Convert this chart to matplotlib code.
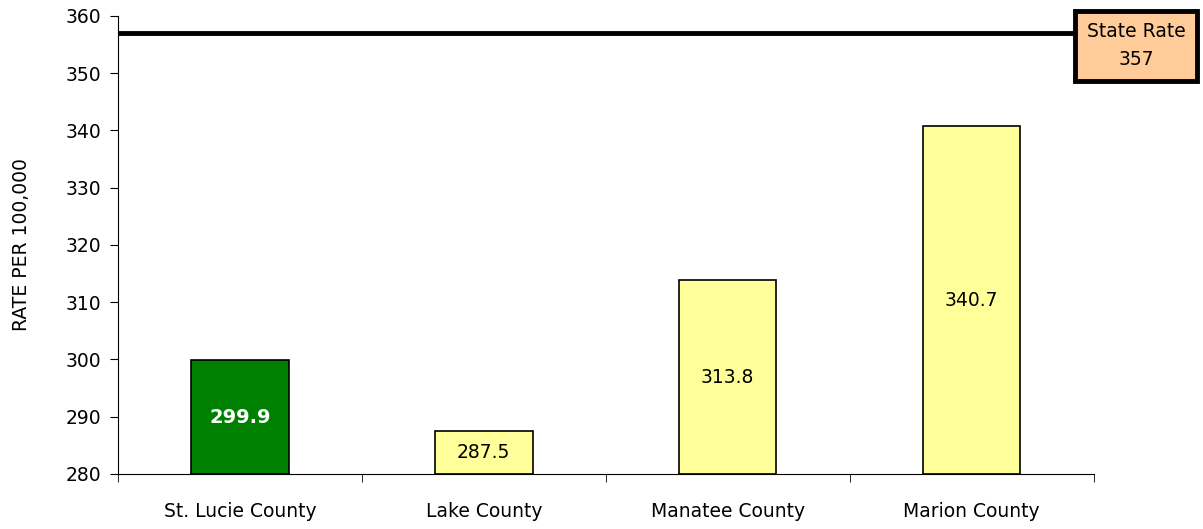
import matplotlib.pyplot as plt

counties = ['St. Lucie County', 'Lake County', 'Manatee County', 'Marion County']
rates = [299.9, 287.5, 313.8, 340.7]
bar_colors = ['#008000', '#ffff99', '#ffff99', '#ffff99']
state_rate = 357

plt.rcParams['font.family'] = ['DejaVu Sans']

fig = plt.figure(figsize=(12.03, 5.29), dpi=100)
ax = fig.add_axes([0.098, 0.104, 0.811, 0.866])

base = 280
x = range(len(counties))
bars = ax.bar(x, [r - base for r in rates], bottom=base, width=0.4,
              color=bar_colors, edgecolor='black', linewidth=1.2, zorder=2)

for i, (b, r) in enumerate(zip(bars, rates)):
    if i == 0:
        ax.text(i, (base + r) / 2, f'{r:.1f}', ha='center', va='center',
                fontsize=14, color='white', fontweight='bold')
    else:
        ax.text(i, (base + r) / 2, f'{r:.1f}', ha='center', va='center',
                fontsize=13.5, color='black')

# state rate reference line with its label box
ax.plot([-0.5, 3.42], [state_rate, state_rate], color='black', lw=3.5,
        clip_on=False, zorder=3, solid_capstyle='butt')
ax.text(3.676, 354.8, f'State Rate\n{state_rate}', ha='center', va='center',
        fontsize=13.5, linespacing=1.6, zorder=4, clip_on=False,
        bbox=dict(boxstyle='square,pad=0.62', facecolor='#ffcc99',
                  edgecolor='black', linewidth=3.5))

ax.set_xlim(-0.5, 3.5)
ax.set_ylim(280, 360)
ax.set_yticks(range(280, 361, 10))
ax.set_xticks(x)
ax.set_xticklabels(counties)
ax.set_xticks([-0.5, 0.5, 1.5, 2.5, 3.5], minor=True)
ax.tick_params(axis='x', which='major', length=0, pad=20, labelsize=13.5)
ax.tick_params(axis='x', which='minor', length=6, direction='out')
ax.tick_params(axis='y', length=6, labelsize=13.5, pad=6)
ax.set_ylabel('RATE PER 100,000', fontsize=13.5, labelpad=25)

ax.spines['top'].set_visible(False)
ax.spines['right'].set_visible(False)

fig.savefig('out.png', dpi=100)
